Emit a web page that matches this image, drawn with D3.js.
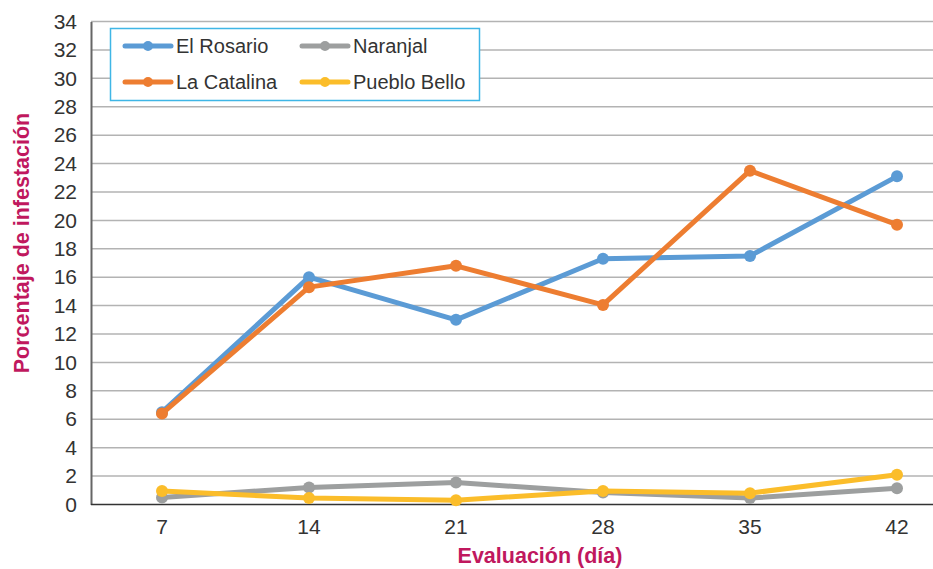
<!DOCTYPE html>
<html><head><meta charset="utf-8">
<script src="https://cdn.jsdelivr.net/npm/d3@7"></script>
<style>body{margin:0;background:#fff}svg{display:block}</style>
</head><body>
<svg id="c" width="933" height="569"></svg>
<script>
const days = ["7","14","21","28","35","42"];
const elRosario = [6.5, 16.0, 13.0, 17.3, 17.5, 23.1];
const laCatalina = [6.4, 15.3, 16.8, 14.05, 23.5, 19.7];
const naranjal = [0.5, 1.2, 1.55, 0.85, 0.45, 1.15];
const puebloBello = [0.95, 0.45, 0.3, 0.95, 0.8, 2.1];
const seriesNames = ["El Rosario","La Catalina","Naranjal","Pueblo Bello"];
const colors = ["#5b9bd5","#ed7d31","#9d9f9f","#fbbd2a"];
const yTicks = d3.range(0, 35, 2);

const svg = d3.select("#c");
const font = "'Liberation Sans', Arial, sans-serif";
const x = d3.scaleBand().domain(days).range([88.5, 970.5]);
const y = d3.scaleLinear().domain([0, 34]).range([504.5, 21.5]);
const cx = d => x(d) + x.bandwidth()/2;

// gridlines
svg.append("g").selectAll("line").data(yTicks.filter(t=>t>0)).join("line")
  .attr("x1", 91).attr("x2", 933).attr("y1", d=>y(d)).attr("y2", d=>y(d))
  .attr("stroke", "#b3b3b3").attr("stroke-width", 1.5);

// y axis
const ya = svg.append("g").attr("transform","translate(91,0)")
  .call(d3.axisLeft(y).tickValues(yTicks).tickSize(0).tickPadding(14));
ya.select(".domain").attr("stroke","#666").attr("stroke-width",2);
ya.selectAll("text").attr("font-family",font).attr("font-size",21).attr("fill","#333");

// x axis
const xa = svg.append("g").attr("transform","translate(0,504.5)")
  .call(d3.axisBottom(x).tickSize(0).tickPadding(15));
xa.select(".domain").attr("stroke","#333").attr("stroke-width",1.5).attr("d","M91,0H933");
xa.selectAll("text").attr("font-family",font).attr("font-size",21).attr("fill","#333");

// titles
svg.append("text").attr("x",540).attr("y",563).attr("text-anchor","middle")
  .attr("font-family",font).attr("font-weight","bold").attr("font-size",21.5).attr("fill","#c0185e")
  .text("Evaluación (día)");
svg.append("text").attr("transform","translate(29,243) rotate(-90)").attr("text-anchor","middle")
  .attr("font-family",font).attr("font-weight","bold").attr("font-size",21.5).attr("fill","#c0185e")
  .text("Porcentaje de infestación");

// lines
const data = [elRosario, laCatalina, naranjal, puebloBello];
const line = d3.line().x((d,i)=>cx(days[i])).y(d=>y(d));
data.forEach((vals, k) => {
  const g = svg.append("g");
  g.append("path").attr("d", line(vals)).attr("fill","none")
    .attr("stroke", colors[k]).attr("stroke-width", 5).attr("stroke-linejoin","round");
  g.selectAll("circle").data(vals).join("circle")
    .attr("cx",(d,i)=>cx(days[i])).attr("cy",d=>y(d)).attr("r",6).attr("fill",colors[k]);
});

// legend
const lg = svg.append("g");
lg.append("rect").attr("x",110.5).attr("y",28.5).attr("width",369).attr("height",72)
  .attr("fill","#fff").attr("stroke","#3fb6e6").attr("stroke-width",1.5);
const pos = [[125,46],[125,82],[302,46],[302,82]];
seriesNames.forEach((n,k)=>{
  const [lx,ly] = pos[k];
  lg.append("line").attr("x1",lx).attr("x2",lx+46).attr("y1",ly).attr("y2",ly)
    .attr("stroke",colors[k]).attr("stroke-width",5).attr("stroke-linecap","round");
  lg.append("circle").attr("cx",lx+23).attr("cy",ly).attr("r",5).attr("fill",colors[k]);
  lg.append("text").attr("x",lx+51).attr("y",ly+7).attr("font-family",font)
    .attr("font-size",20).attr("fill","#333").text(n);
});
</script>
</body></html>
